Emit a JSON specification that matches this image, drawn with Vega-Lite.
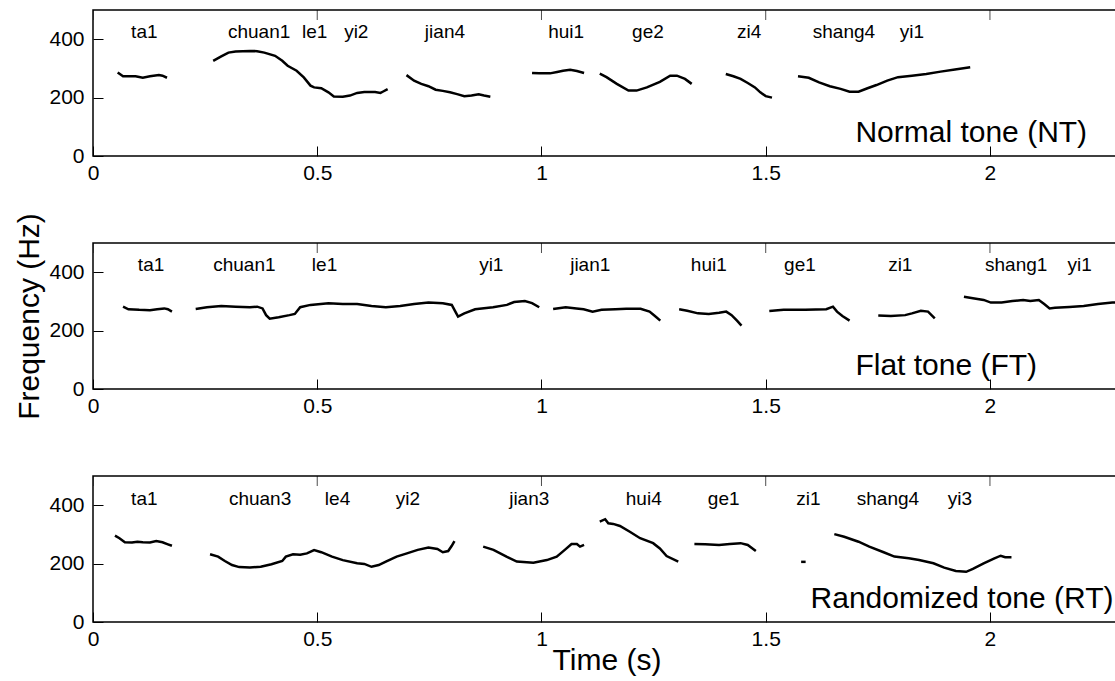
{
  "$schema": "https://vega.github.io/schema/vega-lite/v6.json",
  "padding": {"left": 14, "top": 9, "right": 5, "bottom": 0},
  "background": "white",
  "bounds": "flush",
  "spacing": 87,
  "config": {
    "font": "Liberation Sans",
    "view": {"stroke": "black", "strokeWidth": 1.5},
    "axis": {"domain": false, "grid": false, "ticks": true, "tickSize": -10, "tickColor": "black", "tickWidth": 1, "labelFont": "Liberation Sans", "labelFontSize": 21, "labelColor": "black", "labelFlush": false, "labelOverlap": false, "titleFont": "Liberation Sans", "titleFontSize": 30, "titleFontWeight": "normal", "titleColor": "black"},
    "axisX": {"labelPadding": 16, "titlePadding": -4},
    "axisY": {"labelPadding": 19, "titlePadding": 4}
  },
  "datasets": {
    "contours": [
      {"cond":"NT","seg":"ta1","time":0.055,"f0":286},{"cond":"NT","seg":"ta1","time":0.067,"f0":273},{"cond":"NT","seg":"ta1","time":0.095,"f0":273},{"cond":"NT","seg":"ta1","time":0.111,"f0":268},{"cond":"NT","seg":"ta1","time":0.127,"f0":273},{"cond":"NT","seg":"ta1","time":0.147,"f0":277},{"cond":"NT","seg":"ta1","time":0.155,"f0":275},{"cond":"NT","seg":"ta1","time":0.165,"f0":268},
      {"cond":"NT","seg":"chuan","time":0.268,"f0":326},{"cond":"NT","seg":"chuan","time":0.286,"f0":341},{"cond":"NT","seg":"chuan","time":0.302,"f0":354},{"cond":"NT","seg":"chuan","time":0.318,"f0":358},{"cond":"NT","seg":"chuan","time":0.350,"f0":360},{"cond":"NT","seg":"chuan","time":0.366,"f0":359},{"cond":"NT","seg":"chuan","time":0.382,"f0":354},{"cond":"NT","seg":"chuan","time":0.406,"f0":343},{"cond":"NT","seg":"chuan","time":0.422,"f0":326},{"cond":"NT","seg":"chuan","time":0.434,"f0":309},{"cond":"NT","seg":"chuan","time":0.454,"f0":292},{"cond":"NT","seg":"chuan","time":0.470,"f0":269},{"cond":"NT","seg":"chuan","time":0.485,"f0":241},{"cond":"NT","seg":"chuan","time":0.493,"f0":235},{"cond":"NT","seg":"chuan","time":0.509,"f0":232},{"cond":"NT","seg":"chuan","time":0.525,"f0":218},{"cond":"NT","seg":"chuan","time":0.537,"f0":204},{"cond":"NT","seg":"chuan","time":0.557,"f0":203},{"cond":"NT","seg":"chuan","time":0.573,"f0":207},{"cond":"NT","seg":"chuan","time":0.589,"f0":216},{"cond":"NT","seg":"chuan","time":0.605,"f0":219},{"cond":"NT","seg":"chuan","time":0.629,"f0":219},{"cond":"NT","seg":"chuan","time":0.641,"f0":216},{"cond":"NT","seg":"chuan","time":0.646,"f0":220},{"cond":"NT","seg":"chuan","time":0.657,"f0":229},
      {"cond":"NT","seg":"jian","time":0.699,"f0":277},{"cond":"NT","seg":"jian","time":0.716,"f0":258},{"cond":"NT","seg":"jian","time":0.732,"f0":247},{"cond":"NT","seg":"jian","time":0.748,"f0":239},{"cond":"NT","seg":"jian","time":0.764,"f0":227},{"cond":"NT","seg":"jian","time":0.780,"f0":223},{"cond":"NT","seg":"jian","time":0.796,"f0":218},{"cond":"NT","seg":"jian","time":0.812,"f0":212},{"cond":"NT","seg":"jian","time":0.828,"f0":205},{"cond":"NT","seg":"jian","time":0.844,"f0":207},{"cond":"NT","seg":"jian","time":0.860,"f0":211},{"cond":"NT","seg":"jian","time":0.872,"f0":207},{"cond":"NT","seg":"jian","time":0.886,"f0":203},
      {"cond":"NT","seg":"hui","time":0.979,"f0":284},{"cond":"NT","seg":"hui","time":0.995,"f0":283},{"cond":"NT","seg":"hui","time":1.019,"f0":283},{"cond":"NT","seg":"hui","time":1.035,"f0":288},{"cond":"NT","seg":"hui","time":1.048,"f0":292},{"cond":"NT","seg":"hui","time":1.064,"f0":295},{"cond":"NT","seg":"hui","time":1.079,"f0":291},{"cond":"NT","seg":"hui","time":1.095,"f0":284},
      {"cond":"NT","seg":"ge","time":1.130,"f0":282},{"cond":"NT","seg":"ge","time":1.145,"f0":270},{"cond":"NT","seg":"ge","time":1.168,"f0":247},{"cond":"NT","seg":"ge","time":1.194,"f0":224},{"cond":"NT","seg":"ge","time":1.212,"f0":224},{"cond":"NT","seg":"ge","time":1.235,"f0":235},{"cond":"NT","seg":"ge","time":1.264,"f0":254},{"cond":"NT","seg":"ge","time":1.287,"f0":275},{"cond":"NT","seg":"ge","time":1.302,"f0":275},{"cond":"NT","seg":"ge","time":1.320,"f0":264},{"cond":"NT","seg":"ge","time":1.335,"f0":247},
      {"cond":"NT","seg":"zi","time":1.411,"f0":281},{"cond":"NT","seg":"zi","time":1.428,"f0":273},{"cond":"NT","seg":"zi","time":1.444,"f0":264},{"cond":"NT","seg":"zi","time":1.460,"f0":250},{"cond":"NT","seg":"zi","time":1.476,"f0":235},{"cond":"NT","seg":"zi","time":1.488,"f0":218},{"cond":"NT","seg":"zi","time":1.500,"f0":205},{"cond":"NT","seg":"zi","time":1.514,"f0":200},
      {"cond":"NT","seg":"shang","time":1.572,"f0":273},{"cond":"NT","seg":"shang","time":1.596,"f0":268},{"cond":"NT","seg":"shang","time":1.619,"f0":252},{"cond":"NT","seg":"shang","time":1.643,"f0":239},{"cond":"NT","seg":"shang","time":1.667,"f0":230},{"cond":"NT","seg":"shang","time":1.687,"f0":220},{"cond":"NT","seg":"shang","time":1.707,"f0":220},{"cond":"NT","seg":"shang","time":1.727,"f0":232},{"cond":"NT","seg":"shang","time":1.747,"f0":243},{"cond":"NT","seg":"shang","time":1.771,"f0":258},{"cond":"NT","seg":"shang","time":1.795,"f0":270},{"cond":"NT","seg":"shang","time":1.826,"f0":275},{"cond":"NT","seg":"shang","time":1.858,"f0":281},{"cond":"NT","seg":"shang","time":1.890,"f0":289},{"cond":"NT","seg":"shang","time":1.922,"f0":296},{"cond":"NT","seg":"shang","time":1.956,"f0":304},

      {"cond":"FT","seg":"ta1","time":0.067,"f0":282},{"cond":"FT","seg":"ta1","time":0.079,"f0":273},{"cond":"FT","seg":"ta1","time":0.103,"f0":271},{"cond":"FT","seg":"ta1","time":0.127,"f0":270},{"cond":"FT","seg":"ta1","time":0.143,"f0":273},{"cond":"FT","seg":"ta1","time":0.159,"f0":276},{"cond":"FT","seg":"ta1","time":0.167,"f0":273},{"cond":"FT","seg":"ta1","time":0.176,"f0":265},
      {"cond":"FT","seg":"chuan","time":0.229,"f0":274},{"cond":"FT","seg":"chuan","time":0.254,"f0":280},{"cond":"FT","seg":"chuan","time":0.286,"f0":284},{"cond":"FT","seg":"chuan","time":0.318,"f0":282},{"cond":"FT","seg":"chuan","time":0.350,"f0":280},{"cond":"FT","seg":"chuan","time":0.366,"f0":282},{"cond":"FT","seg":"chuan","time":0.378,"f0":276},{"cond":"FT","seg":"chuan","time":0.386,"f0":253},{"cond":"FT","seg":"chuan","time":0.394,"f0":241},{"cond":"FT","seg":"chuan","time":0.414,"f0":246},{"cond":"FT","seg":"chuan","time":0.438,"f0":253},{"cond":"FT","seg":"chuan","time":0.450,"f0":257},{"cond":"FT","seg":"chuan","time":0.462,"f0":280},{"cond":"FT","seg":"chuan","time":0.485,"f0":288},{"cond":"FT","seg":"chuan","time":0.525,"f0":294},{"cond":"FT","seg":"chuan","time":0.557,"f0":291},{"cond":"FT","seg":"chuan","time":0.589,"f0":291},{"cond":"FT","seg":"chuan","time":0.621,"f0":284},{"cond":"FT","seg":"chuan","time":0.653,"f0":280},{"cond":"FT","seg":"chuan","time":0.685,"f0":284},{"cond":"FT","seg":"chuan","time":0.716,"f0":291},{"cond":"FT","seg":"chuan","time":0.748,"f0":296},{"cond":"FT","seg":"chuan","time":0.780,"f0":294},{"cond":"FT","seg":"chuan","time":0.800,"f0":288},{"cond":"FT","seg":"chuan","time":0.808,"f0":265},{"cond":"FT","seg":"chuan","time":0.814,"f0":248},{"cond":"FT","seg":"chuan","time":0.828,"f0":259},{"cond":"FT","seg":"chuan","time":0.852,"f0":273},{"cond":"FT","seg":"chuan","time":0.892,"f0":280},{"cond":"FT","seg":"chuan","time":0.923,"f0":288},{"cond":"FT","seg":"chuan","time":0.939,"f0":298},{"cond":"FT","seg":"chuan","time":0.963,"f0":301},{"cond":"FT","seg":"chuan","time":0.979,"f0":294},{"cond":"FT","seg":"chuan","time":0.995,"f0":280},
      {"cond":"FT","seg":"jian","time":1.026,"f0":274},{"cond":"FT","seg":"jian","time":1.054,"f0":280},{"cond":"FT","seg":"jian","time":1.078,"f0":276},{"cond":"FT","seg":"jian","time":1.094,"f0":273},{"cond":"FT","seg":"jian","time":1.114,"f0":265},{"cond":"FT","seg":"jian","time":1.134,"f0":271},{"cond":"FT","seg":"jian","time":1.165,"f0":273},{"cond":"FT","seg":"jian","time":1.189,"f0":275},{"cond":"FT","seg":"jian","time":1.221,"f0":275},{"cond":"FT","seg":"jian","time":1.241,"f0":265},{"cond":"FT","seg":"jian","time":1.253,"f0":250},{"cond":"FT","seg":"jian","time":1.265,"f0":234},
      {"cond":"FT","seg":"hui","time":1.307,"f0":273},{"cond":"FT","seg":"hui","time":1.325,"f0":268},{"cond":"FT","seg":"hui","time":1.349,"f0":259},{"cond":"FT","seg":"hui","time":1.373,"f0":257},{"cond":"FT","seg":"hui","time":1.396,"f0":261},{"cond":"FT","seg":"hui","time":1.412,"f0":265},{"cond":"FT","seg":"hui","time":1.424,"f0":253},{"cond":"FT","seg":"hui","time":1.436,"f0":234},{"cond":"FT","seg":"hui","time":1.446,"f0":217},
      {"cond":"FT","seg":"ge","time":1.508,"f0":267},{"cond":"FT","seg":"ge","time":1.540,"f0":271},{"cond":"FT","seg":"ge","time":1.588,"f0":271},{"cond":"FT","seg":"ge","time":1.635,"f0":273},{"cond":"FT","seg":"ge","time":1.650,"f0":282},{"cond":"FT","seg":"ge","time":1.659,"f0":265},{"cond":"FT","seg":"ge","time":1.671,"f0":250},{"cond":"FT","seg":"ge","time":1.687,"f0":234},
      {"cond":"FT","seg":"zi","time":1.751,"f0":252},{"cond":"FT","seg":"zi","time":1.779,"f0":250},{"cond":"FT","seg":"zi","time":1.811,"f0":253},{"cond":"FT","seg":"zi","time":1.826,"f0":259},{"cond":"FT","seg":"zi","time":1.846,"f0":268},{"cond":"FT","seg":"zi","time":1.862,"f0":265},{"cond":"FT","seg":"zi","time":1.877,"f0":242},
      {"cond":"FT","seg":"shang","time":1.942,"f0":316},{"cond":"FT","seg":"shang","time":1.962,"f0":311},{"cond":"FT","seg":"shang","time":1.986,"f0":305},{"cond":"FT","seg":"shang","time":2.002,"f0":296},{"cond":"FT","seg":"shang","time":2.026,"f0":296},{"cond":"FT","seg":"shang","time":2.050,"f0":301},{"cond":"FT","seg":"shang","time":2.074,"f0":305},{"cond":"FT","seg":"shang","time":2.090,"f0":301},{"cond":"FT","seg":"shang","time":2.109,"f0":305},{"cond":"FT","seg":"shang","time":2.121,"f0":291},{"cond":"FT","seg":"shang","time":2.133,"f0":276},{"cond":"FT","seg":"shang","time":2.145,"f0":278},{"cond":"FT","seg":"shang","time":2.177,"f0":281},{"cond":"FT","seg":"shang","time":2.209,"f0":284},{"cond":"FT","seg":"shang","time":2.241,"f0":291},{"cond":"FT","seg":"shang","time":2.273,"f0":296},{"cond":"FT","seg":"shang","time":2.290,"f0":297},

      {"cond":"RT","seg":"ta1","time":0.049,"f0":296},{"cond":"RT","seg":"ta1","time":0.059,"f0":287},{"cond":"RT","seg":"ta1","time":0.071,"f0":273},{"cond":"RT","seg":"ta1","time":0.087,"f0":272},{"cond":"RT","seg":"ta1","time":0.099,"f0":275},{"cond":"RT","seg":"ta1","time":0.111,"f0":273},{"cond":"RT","seg":"ta1","time":0.127,"f0":272},{"cond":"RT","seg":"ta1","time":0.141,"f0":277},{"cond":"RT","seg":"ta1","time":0.155,"f0":273},{"cond":"RT","seg":"ta1","time":0.167,"f0":266},{"cond":"RT","seg":"ta1","time":0.176,"f0":261},
      {"cond":"RT","seg":"chuan","time":0.261,"f0":232},{"cond":"RT","seg":"chuan","time":0.279,"f0":224},{"cond":"RT","seg":"chuan","time":0.294,"f0":209},{"cond":"RT","seg":"chuan","time":0.310,"f0":195},{"cond":"RT","seg":"chuan","time":0.326,"f0":188},{"cond":"RT","seg":"chuan","time":0.350,"f0":187},{"cond":"RT","seg":"chuan","time":0.374,"f0":189},{"cond":"RT","seg":"chuan","time":0.398,"f0":198},{"cond":"RT","seg":"chuan","time":0.422,"f0":209},{"cond":"RT","seg":"chuan","time":0.430,"f0":224},{"cond":"RT","seg":"chuan","time":0.446,"f0":232},{"cond":"RT","seg":"chuan","time":0.462,"f0":230},{"cond":"RT","seg":"chuan","time":0.477,"f0":235},{"cond":"RT","seg":"chuan","time":0.493,"f0":246},{"cond":"RT","seg":"chuan","time":0.509,"f0":239},{"cond":"RT","seg":"chuan","time":0.533,"f0":224},{"cond":"RT","seg":"chuan","time":0.557,"f0":212},{"cond":"RT","seg":"chuan","time":0.589,"f0":201},{"cond":"RT","seg":"chuan","time":0.605,"f0":199},{"cond":"RT","seg":"chuan","time":0.621,"f0":189},{"cond":"RT","seg":"chuan","time":0.637,"f0":195},{"cond":"RT","seg":"chuan","time":0.653,"f0":207},{"cond":"RT","seg":"chuan","time":0.677,"f0":224},{"cond":"RT","seg":"chuan","time":0.700,"f0":235},{"cond":"RT","seg":"chuan","time":0.724,"f0":247},{"cond":"RT","seg":"chuan","time":0.748,"f0":255},{"cond":"RT","seg":"chuan","time":0.768,"f0":250},{"cond":"RT","seg":"chuan","time":0.780,"f0":239},{"cond":"RT","seg":"chuan","time":0.792,"f0":243},{"cond":"RT","seg":"chuan","time":0.800,"f0":261},{"cond":"RT","seg":"chuan","time":0.806,"f0":277},
      {"cond":"RT","seg":"jian","time":0.870,"f0":258},{"cond":"RT","seg":"jian","time":0.893,"f0":247},{"cond":"RT","seg":"jian","time":0.922,"f0":224},{"cond":"RT","seg":"jian","time":0.945,"f0":207},{"cond":"RT","seg":"jian","time":0.982,"f0":203},{"cond":"RT","seg":"jian","time":1.012,"f0":212},{"cond":"RT","seg":"jian","time":1.034,"f0":224},{"cond":"RT","seg":"jian","time":1.052,"f0":247},{"cond":"RT","seg":"jian","time":1.067,"f0":267},{"cond":"RT","seg":"jian","time":1.079,"f0":267},{"cond":"RT","seg":"jian","time":1.086,"f0":258},{"cond":"RT","seg":"jian","time":1.095,"f0":264},
      {"cond":"RT","seg":"hui","time":1.130,"f0":344},{"cond":"RT","seg":"hui","time":1.142,"f0":352},{"cond":"RT","seg":"hui","time":1.149,"f0":338},{"cond":"RT","seg":"hui","time":1.160,"f0":336},{"cond":"RT","seg":"hui","time":1.175,"f0":329},{"cond":"RT","seg":"hui","time":1.197,"f0":309},{"cond":"RT","seg":"hui","time":1.220,"f0":287},{"cond":"RT","seg":"hui","time":1.249,"f0":270},{"cond":"RT","seg":"hui","time":1.264,"f0":252},{"cond":"RT","seg":"hui","time":1.279,"f0":226},{"cond":"RT","seg":"hui","time":1.305,"f0":207},
      {"cond":"RT","seg":"ge","time":1.341,"f0":267},{"cond":"RT","seg":"ge","time":1.365,"f0":266},{"cond":"RT","seg":"ge","time":1.396,"f0":264},{"cond":"RT","seg":"ge","time":1.420,"f0":267},{"cond":"RT","seg":"ge","time":1.444,"f0":270},{"cond":"RT","seg":"ge","time":1.460,"f0":264},{"cond":"RT","seg":"ge","time":1.478,"f0":243},
      {"cond":"RT","seg":"zi","time":1.579,"f0":206},{"cond":"RT","seg":"zi","time":1.589,"f0":206},
      {"cond":"RT","seg":"shang","time":1.653,"f0":301},{"cond":"RT","seg":"shang","time":1.675,"f0":292},{"cond":"RT","seg":"shang","time":1.707,"f0":275},{"cond":"RT","seg":"shang","time":1.731,"f0":258},{"cond":"RT","seg":"shang","time":1.763,"f0":239},{"cond":"RT","seg":"shang","time":1.787,"f0":224},{"cond":"RT","seg":"shang","time":1.819,"f0":218},{"cond":"RT","seg":"shang","time":1.842,"f0":212},{"cond":"RT","seg":"shang","time":1.874,"f0":201},{"cond":"RT","seg":"shang","time":1.898,"f0":186},{"cond":"RT","seg":"shang","time":1.924,"f0":175},{"cond":"RT","seg":"shang","time":1.947,"f0":172},{"cond":"RT","seg":"shang","time":1.962,"f0":182},{"cond":"RT","seg":"shang","time":1.986,"f0":201},{"cond":"RT","seg":"shang","time":2.010,"f0":218},{"cond":"RT","seg":"shang","time":2.024,"f0":227},{"cond":"RT","seg":"shang","time":2.034,"f0":222},{"cond":"RT","seg":"shang","time":2.048,"f0":222}
    ],
    "syllables": [
      {"cond":"NT","syllable":"ta1","time":0.085},{"cond":"NT","syllable":"chuan1","time":0.301},{"cond":"NT","syllable":"le1","time":0.466},{"cond":"NT","syllable":"yi2","time":0.560},{"cond":"NT","syllable":"jian4","time":0.740},{"cond":"NT","syllable":"hui1","time":1.015},{"cond":"NT","syllable":"ge2","time":1.202},{"cond":"NT","syllable":"zi4","time":1.436},{"cond":"NT","syllable":"shang4","time":1.605},{"cond":"NT","syllable":"yi1","time":1.799},
      {"cond":"FT","syllable":"ta1","time":0.100},{"cond":"FT","syllable":"chuan1","time":0.268},{"cond":"FT","syllable":"le1","time":0.488},{"cond":"FT","syllable":"yi1","time":0.861},{"cond":"FT","syllable":"jian1","time":1.064},{"cond":"FT","syllable":"hui1","time":1.333},{"cond":"FT","syllable":"ge1","time":1.541},{"cond":"FT","syllable":"zi1","time":1.773},{"cond":"FT","syllable":"shang1","time":1.989},{"cond":"FT","syllable":"yi1","time":2.173},
      {"cond":"RT","syllable":"ta1","time":0.085},{"cond":"RT","syllable":"chuan3","time":0.303},{"cond":"RT","syllable":"le4","time":0.517},{"cond":"RT","syllable":"yi2","time":0.675},{"cond":"RT","syllable":"jian3","time":0.928},{"cond":"RT","syllable":"hui4","time":1.188},{"cond":"RT","syllable":"ge1","time":1.371},{"cond":"RT","syllable":"zi1","time":1.568},{"cond":"RT","syllable":"shang4","time":1.703},{"cond":"RT","syllable":"yi3","time":1.906}
    ],
    "ticktimes": [{"time":0},{"time":0.5},{"time":1},{"time":1.5},{"time":2}]
  },
  "vconcat": [
    {
      "width": 1027, "height": 146,
      "layer": [
        {
          "data": {"name": "contours"},
          "transform": [{"filter": "datum.cond === 'NT'"}],
          "mark": {"type": "line", "color": "black", "strokeWidth": 2.5, "clip": true},
          "encoding": {
            "x": {"field": "time", "type": "quantitative", "scale": {"domain": [0, 2.29], "nice": false, "zero": false}, "axis": {"values": [0, 0.5, 1, 1.5, 2], "format": "~g", "title": null}},
            "y": {"field": "f0", "type": "quantitative", "scale": {"domain": [0, 500], "nice": false}, "axis": {"values": [0, 200, 400], "title": null}},
            "detail": {"field": "seg", "type": "nominal"}
          }
        },
        {
          "data": {"name": "ticktimes"},
          "mark": {"type": "tick", "orient": "vertical", "size": 20, "thickness": 1, "color": "black", "clip": true},
          "encoding": {
            "x": {"field": "time", "type": "quantitative", "axis": {"values": [0, 0.5, 1, 1.5, 2], "format": "~g", "title": null}},
            "y": {"datum": 500, "type": "quantitative", "axis": {"values": [0, 200, 400], "title": null}}
          }
        },
        {
          "data": {"name": "syllables"},
          "transform": [{"filter": "datum.cond === 'NT'"}],
          "mark": {"type": "text", "align": "left", "baseline": "middle", "fontSize": 19, "font": "Liberation Sans", "color": "black"},
          "encoding": {
            "x": {"field": "time", "type": "quantitative", "axis": {"values": [0, 0.5, 1, 1.5, 2], "format": "~g", "title": null}},
            "y": {"datum": 425, "type": "quantitative", "axis": {"values": [0, 200, 400], "title": null}},
            "text": {"field": "syllable", "type": "nominal"}
          }
        },
        {
          "data": {"values": [{"condition": "Normal tone (NT)"}]},
          "mark": {"type": "text", "align": "left", "baseline": "middle", "fontSize": 30, "font": "Liberation Sans", "color": "black"},
          "encoding": {
            "x": {"datum": 1.70, "type": "quantitative", "axis": {"values": [0, 0.5, 1, 1.5, 2], "format": "~g", "title": null}},
            "y": {"datum": 80, "type": "quantitative", "axis": {"values": [0, 200, 400], "title": null}},
            "text": {"field": "condition", "type": "nominal"}
          }
        }
      ]
    },
    {
      "width": 1027, "height": 146,
      "layer": [
        {
          "data": {"name": "contours"},
          "transform": [{"filter": "datum.cond === 'FT'"}],
          "mark": {"type": "line", "color": "black", "strokeWidth": 2.5, "clip": true},
          "encoding": {
            "x": {"field": "time", "type": "quantitative", "scale": {"domain": [0, 2.29], "nice": false, "zero": false}, "axis": {"values": [0, 0.5, 1, 1.5, 2], "format": "~g", "title": null}},
            "y": {"field": "f0", "type": "quantitative", "scale": {"domain": [0, 500], "nice": false}, "axis": {"values": [0, 200, 400], "title": "Frequency (Hz)"}},
            "detail": {"field": "seg", "type": "nominal"}
          }
        },
        {
          "data": {"name": "ticktimes"},
          "mark": {"type": "tick", "orient": "vertical", "size": 20, "thickness": 1, "color": "black", "clip": true},
          "encoding": {
            "x": {"field": "time", "type": "quantitative", "axis": {"values": [0, 0.5, 1, 1.5, 2], "format": "~g", "title": null}},
            "y": {"datum": 500, "type": "quantitative", "axis": {"values": [0, 200, 400], "title": "Frequency (Hz)"}}
          }
        },
        {
          "data": {"name": "syllables"},
          "transform": [{"filter": "datum.cond === 'FT'"}],
          "mark": {"type": "text", "align": "left", "baseline": "middle", "fontSize": 19, "font": "Liberation Sans", "color": "black"},
          "encoding": {
            "x": {"field": "time", "type": "quantitative", "axis": {"values": [0, 0.5, 1, 1.5, 2], "format": "~g", "title": null}},
            "y": {"datum": 425, "type": "quantitative", "axis": {"values": [0, 200, 400], "title": "Frequency (Hz)"}},
            "text": {"field": "syllable", "type": "nominal"}
          }
        },
        {
          "data": {"values": [{"condition": "Flat tone (FT)"}]},
          "mark": {"type": "text", "align": "left", "baseline": "middle", "fontSize": 30, "font": "Liberation Sans", "color": "black"},
          "encoding": {
            "x": {"datum": 1.70, "type": "quantitative", "axis": {"values": [0, 0.5, 1, 1.5, 2], "format": "~g", "title": null}},
            "y": {"datum": 78, "type": "quantitative", "axis": {"values": [0, 200, 400], "title": "Frequency (Hz)"}},
            "text": {"field": "condition", "type": "nominal"}
          }
        }
      ]
    },
    {
      "width": 1027, "height": 146,
      "layer": [
        {
          "data": {"name": "contours"},
          "transform": [{"filter": "datum.cond === 'RT'"}],
          "mark": {"type": "line", "color": "black", "strokeWidth": 2.5, "clip": true},
          "encoding": {
            "x": {"field": "time", "type": "quantitative", "scale": {"domain": [0, 2.29], "nice": false, "zero": false}, "axis": {"values": [0, 0.5, 1, 1.5, 2], "format": "~g", "title": "Time (s)"}},
            "y": {"field": "f0", "type": "quantitative", "scale": {"domain": [0, 500], "nice": false}, "axis": {"values": [0, 200, 400], "title": null}},
            "detail": {"field": "seg", "type": "nominal"}
          }
        },
        {
          "data": {"name": "ticktimes"},
          "mark": {"type": "tick", "orient": "vertical", "size": 20, "thickness": 1, "color": "black", "clip": true},
          "encoding": {
            "x": {"field": "time", "type": "quantitative", "axis": {"values": [0, 0.5, 1, 1.5, 2], "format": "~g", "title": "Time (s)"}},
            "y": {"datum": 500, "type": "quantitative", "axis": {"values": [0, 200, 400], "title": null}}
          }
        },
        {
          "data": {"name": "syllables"},
          "transform": [{"filter": "datum.cond === 'RT'"}],
          "mark": {"type": "text", "align": "left", "baseline": "middle", "fontSize": 19, "font": "Liberation Sans", "color": "black"},
          "encoding": {
            "x": {"field": "time", "type": "quantitative", "axis": {"values": [0, 0.5, 1, 1.5, 2], "format": "~g", "title": "Time (s)"}},
            "y": {"datum": 422, "type": "quantitative", "axis": {"values": [0, 200, 400], "title": null}},
            "text": {"field": "syllable", "type": "nominal"}
          }
        },
        {
          "data": {"values": [{"condition": "Randomized tone (RT)"}]},
          "mark": {"type": "text", "align": "left", "baseline": "middle", "fontSize": 30, "font": "Liberation Sans", "color": "black"},
          "encoding": {
            "x": {"datum": 1.60, "type": "quantitative", "axis": {"values": [0, 0.5, 1, 1.5, 2], "format": "~g", "title": "Time (s)"}},
            "y": {"datum": 80, "type": "quantitative", "axis": {"values": [0, 200, 400], "title": null}},
            "text": {"field": "condition", "type": "nominal"}
          }
        }
      ]
    }
  ]
}
